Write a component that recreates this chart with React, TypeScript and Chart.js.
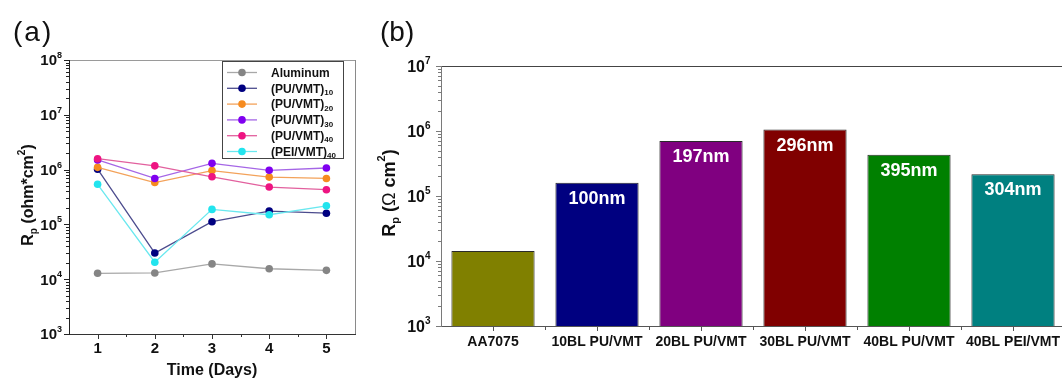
import React, { useEffect, useRef } from 'react';
import { Chart, registerables } from 'chart.js';

Chart.register(...registerables);

// ---------------- data ----------------
const days = [1, 2, 3, 4, 5];
const aluminum = [1.28e4, 1.3e4, 1.9e4, 1.55e4, 1.45e4];
const puVmt10 = [1.02e6, 3.0e4, 1.12e5, 1.75e5, 1.6e5];
const puVmt20 = [1.1e6, 5.8e5, 9.6e5, 7.3e5, 6.9e5];
const puVmt30 = [1.5e6, 6.9e5, 1.3e6, 9.7e5, 1.07e6];
const puVmt40 = [1.58e6, 1.17e6, 7.4e5, 4.8e5, 4.3e5];
const peiVmt40 = [5.4e5, 2.04e4, 1.88e5, 1.5e5, 2.18e5];
const seriesBase = ['Aluminum', '(PU/VMT)', '(PU/VMT)', '(PU/VMT)', '(PU/VMT)', '(PEI/VMT)'];
const seriesSub = ['', '10', '20', '30', '40', '40'];
const seriesValues = [aluminum, puVmt10, puVmt20, puVmt30, puVmt40, peiVmt40];
const decadesA = [3, 4, 5, 6, 7, 8];

const barCategories = ['AA7075', '10BL PU/VMT', '20BL PU/VMT', '30BL PU/VMT', '40BL PU/VMT', '40BL PEI/VMT'];
const barValues = [1.43e4, 1.6e5, 7.0e5, 1.05e6, 4.3e5, 2.17e5];
const barTexts = ['', '100nm', '197nm', '296nm', '395nm', '304nm'];
const decadesB = [3, 4, 5, 6, 7];

// ---------------- styles ----------------
const FAM = '"Liberation Sans", Arial, sans-serif';
const markerColors = ['#858585', '#000080', '#f68b1f', '#8000f0', '#ee1482', '#22e4ee'];
const lineColors = ['#a8a8a8', '#4c4c8e', '#f3a25a', '#a566e6', '#e2609e', '#6ae8ef'];
const barColors = ['#808000', '#000080', '#800080', '#800000', '#008000', '#008080'];

type Seg = { t: string; size: number; weight?: string; dy?: number };

function segFont(s: Seg) {
  return `${s.weight || 'bold'} ${s.size}px ${FAM}`;
}

function drawRich(ctx: CanvasRenderingContext2D, segs: Seg[], x: number, y: number, align: string) {
  let w = 0;
  for (const s of segs) {
    ctx.font = segFont(s);
    w += ctx.measureText(s.t).width;
  }
  let cx = align === 'left' ? x : align === 'center' ? x - w / 2 : x - w;
  ctx.textAlign = 'left';
  ctx.textBaseline = 'alphabetic';
  for (const s of segs) {
    ctx.font = segFont(s);
    ctx.fillText(s.t, cx, y + (s.dy || 0));
    cx += ctx.measureText(s.t).width;
  }
}

function hline(ctx: CanvasRenderingContext2D, x0: number, x1: number, y: number, color: string) {
  ctx.strokeStyle = color;
  ctx.beginPath();
  ctx.moveTo(x0, Math.round(y) + 0.5);
  ctx.lineTo(x1, Math.round(y) + 0.5);
  ctx.stroke();
}
function vline(ctx: CanvasRenderingContext2D, x: number, y0: number, y1: number, color: string) {
  ctx.strokeStyle = color;
  ctx.beginPath();
  ctx.moveTo(Math.round(x) + 0.5, y0);
  ctx.lineTo(Math.round(x) + 0.5, y1);
  ctx.stroke();
}

function drawLogAxis(ctx: CanvasRenderingContext2D, scale: any, x: number, decades: number[], color: string, size: number, supSize: number, labelRight: number) {
  ctx.lineWidth = 1;
  for (let k = 0; k < decades.length; k++) {
    const d = decades[k];
    const y = scale.getPixelForValue(Math.pow(10, d));
    hline(ctx, x - 5, x + 1, y, color);
    if (k < decades.length - 1) {
      for (let m = 2; m <= 9; m++) {
        const ym = scale.getPixelForValue(m * Math.pow(10, d));
        hline(ctx, x - 3, x + 1, ym, color);
      }
    }
    ctx.fillStyle = '#111';
    ctx.font = `bold ${supSize}px ${FAM}`;
    const sw = ctx.measureText(String(d)).width;
    drawRich(ctx, [
      { t: '10', size },
      { t: String(d), size: supSize, dy: -size * 0.5 },
    ], labelRight + sw, y + size * 0.36, 'right');
  }
}

const panelAPlugin = {
  id: 'panelA',
  afterDraw(chart: any) {
    const { ctx, chartArea: ca, scales } = chart;
    const xs = scales.x;
    const ys = scales.y;
    ctx.save();
    ctx.lineWidth = 1;
    // frame
    hline(ctx, ca.left, ca.right + 1, ca.top, '#9a9a9a');
    vline(ctx, ca.right, ca.top, ca.bottom, '#8a8a8a');
    vline(ctx, ca.left, ca.top, ca.bottom + 1, '#222');
    hline(ctx, ca.left, ca.right + 1, ca.bottom, '#333');
    // x ticks
    for (let v = 1; v <= 5; v++) {
      const x = xs.getPixelForValue(v);
      vline(ctx, x, ca.bottom, ca.bottom + 5, '#333');
    }
    for (let v = 1.5; v < 5.5; v += 1) {
      const x = xs.getPixelForValue(v);
      vline(ctx, x, ca.bottom, ca.bottom + 3, '#333');
    }
    // y axis
    drawLogAxis(ctx, ys, ca.left, decadesA, '#222', 15, 9, ca.left - 12);
    // y title
    ctx.save();
    ctx.translate(27, 195);
    ctx.rotate(-Math.PI / 2);
    ctx.fillStyle = '#111';
    drawRich(ctx, [
      { t: 'R', size: 16 },
      { t: 'p', size: 10, dy: 4 },
      { t: ' (ohm*cm', size: 16 },
      { t: '2', size: 10, dy: -8 },
      { t: ')', size: 16 },
    ], 0, 6, 'center');
    ctx.restore();
    // panel label
    ctx.fillStyle = '#111';
    ctx.font = `normal 28px ${FAM}`;
    ctx.textAlign = 'left';
    ctx.textBaseline = 'alphabetic';
    (ctx as any).letterSpacing = '2px';
    ctx.fillText('(a)', 13, 41);
    (ctx as any).letterSpacing = '0px';
    // legend
    const lx0 = ca.right - 133;
    const lx1 = ca.right - 12;
    const ly0 = ca.top + 1;
    const ly1 = ca.top + 98;
    ctx.fillStyle = '#fff';
    ctx.fillRect(lx0, ly0, lx1 - lx0, ly1 - ly0);
    ctx.strokeStyle = '#444';
    ctx.lineWidth = 1;
    ctx.strokeRect(lx0 + 0.5, ly0 + 0.5, lx1 - lx0, ly1 - ly0);
    for (let i = 0; i < seriesBase.length; i++) {
      const y = ly0 + 11.5 + i * 15.8;
      ctx.strokeStyle = lineColors[i];
      ctx.lineWidth = 1.3;
      ctx.beginPath();
      ctx.moveTo(lx0 + 5, y);
      ctx.lineTo(lx0 + 35, y);
      ctx.stroke();
      ctx.fillStyle = markerColors[i];
      ctx.beginPath();
      ctx.arc(lx0 + 20, y, 3.8, 0, Math.PI * 2);
      ctx.fill();
      ctx.fillStyle = '#111';
      const segs: Seg[] = [{ t: seriesBase[i], size: 12 }];
      if (seriesSub[i]) segs.push({ t: seriesSub[i], size: 8, dy: 2.5 });
      drawRich(ctx, segs, lx0 + 49, y + 4.2, 'left');
    }
    ctx.restore();
  },
};

const panelBPlugin = {
  id: 'panelB',
  afterDraw(chart: any) {
    const { ctx, chartArea: ca, scales } = chart;
    const xs = scales.x;
    const ys = scales.y;
    ctx.save();
    ctx.lineWidth = 1;
    hline(ctx, ca.left, ca.right, ca.top, '#444');
    vline(ctx, ca.left, ca.top, ca.bottom + 1, '#7a7a7a');
    hline(ctx, ca.left, ca.right, ca.bottom, '#555');
    for (let i = 0; i < barCategories.length; i++) {
      vline(ctx, xs.getPixelForValue(i), ca.bottom, ca.bottom + 5, '#555');
      vline(ctx, xs.getPixelForValue(i + 0.5), ca.bottom, ca.bottom + 4, '#555');
    }
    drawLogAxis(ctx, ys, ca.left, decadesB, '#7a7a7a', 16, 10, ca.left - 16);
    // bar labels
    const meta = chart.getDatasetMeta(0);
    ctx.fillStyle = '#fff';
    ctx.font = `bold 18px ${FAM}`;
    ctx.textAlign = 'center';
    ctx.textBaseline = 'middle';
    meta.data.forEach((el: any, i: number) => {
      if (barTexts[i]) ctx.fillText(barTexts[i], el.x, el.y + 16);
    });
    // y title
    ctx.save();
    ctx.translate(28, 193);
    ctx.rotate(-Math.PI / 2);
    ctx.fillStyle = '#111';
    drawRich(ctx, [
      { t: 'R', size: 18 },
      { t: 'p', size: 11, dy: 4 },
      { t: ' (', size: 18 },
      { t: 'Ω', size: 18, weight: 'normal' },
      { t: ' cm', size: 18 },
      { t: '2', size: 11, dy: -10 },
      { t: ')', size: 18 },
    ], 0, 6.5, 'center');
    ctx.restore();
    ctx.fillStyle = '#111';
    ctx.font = `normal 28px ${FAM}`;
    ctx.textAlign = 'left';
    ctx.textBaseline = 'alphabetic';
    ctx.fillText('(b)', 20, 41);
    ctx.restore();
  },
};

export default function App() {
  const refA = useRef<HTMLCanvasElement>(null);
  const refB = useRef<HTMLCanvasElement>(null);

  useEffect(() => {
    const chartA = new Chart(refA.current as HTMLCanvasElement, {
      type: 'line',
      data: {
        datasets: seriesValues.map((vals, i) => ({
          label: seriesBase[i] + seriesSub[i],
          data: days.map((d, j) => ({ x: d, y: vals[j] })),
          borderColor: lineColors[i],
          backgroundColor: markerColors[i],
          pointBackgroundColor: markerColors[i],
          pointBorderColor: markerColors[i],
          pointRadius: 3.8,
          pointBorderWidth: 0,
          borderWidth: 1.3,
          tension: 0,
          order: seriesValues.length - i,
        })),
      },
      options: {
        animation: false,
        responsive: false,
        events: [],
        layout: { padding: { top: 60, right: 5, left: 0, bottom: 0 } },
        plugins: { legend: { display: false }, tooltip: { enabled: false } },
        scales: {
          x: {
            type: 'linear',
            min: 0.5,
            max: 5.5,
            afterBuildTicks: (s: any) => {
              s.ticks = days.map((v) => ({ value: v }));
            },
            afterFit: (s: any) => {
              s.height = 47;
            },
            grid: { display: false, drawTicks: false },
            border: { display: false },
            ticks: {
              padding: 6,
              color: '#111',
              font: { family: FAM, size: 15, weight: 'bold' },
              maxRotation: 0,
              autoSkip: false,
            },
            title: {
              display: true,
              text: 'Time (Days)',
              color: '#111',
              font: { family: FAM, size: 16, weight: 'bold' },
              padding: { top: 0, bottom: 1 },
            },
          },
          y: {
            type: 'logarithmic',
            min: 1e3,
            max: 1e8,
            afterFit: (s: any) => {
              s.width = 69;
            },
            grid: { display: false, drawTicks: false },
            border: { display: false },
            ticks: { display: false },
          },
        },
      } as any,
      plugins: [panelAPlugin],
    });

    const chartB = new Chart(refB.current as HTMLCanvasElement, {
      type: 'bar',
      data: {
        labels: barCategories,
        datasets: [
          {
            data: barValues,
            backgroundColor: barColors,
            borderColor: '#2a2a2a',
            borderWidth: 1,
            barPercentage: 0.8,
            categoryPercentage: 1,
            base: 1000,
          },
        ],
      },
      options: {
        animation: false,
        responsive: false,
        events: [],
        layout: { padding: { top: 66, right: 5, left: 0, bottom: 0 } },
        plugins: { legend: { display: false }, tooltip: { enabled: false } },
        scales: {
          x: {
            type: 'category',
            offset: true,
            grid: { display: false, drawTicks: false },
            border: { display: false },
            afterFit: (s: any) => {
              s.height = 55;
            },
            ticks: {
              padding: 8,
              color: '#111',
              font: { family: FAM, size: 14, weight: 'bold' },
              maxRotation: 0,
              autoSkip: false,
            },
          },
          y: {
            type: 'logarithmic',
            min: 1e3,
            max: 1e7,
            afterFit: (s: any) => {
              s.width = 81;
            },
            grid: { display: false, drawTicks: false },
            border: { display: false },
            ticks: { display: false },
          },
        },
      } as any,
      plugins: [panelBPlugin],
    });

    return () => {
      chartA.destroy();
      chartB.destroy();
    };
  }, []);

  return (
    <div
      style={{
        position: 'fixed',
        left: 0,
        top: 0,
        width: 1062,
        height: 381,
        overflow: 'hidden',
        background: '#fff',
      }}
    >
      <canvas ref={refA} width={360} height={381} style={{ position: 'absolute', left: 0, top: 0 }} />
      <canvas ref={refB} width={710} height={381} style={{ position: 'absolute', left: 360, top: 0 }} />
    </div>
  );
}
